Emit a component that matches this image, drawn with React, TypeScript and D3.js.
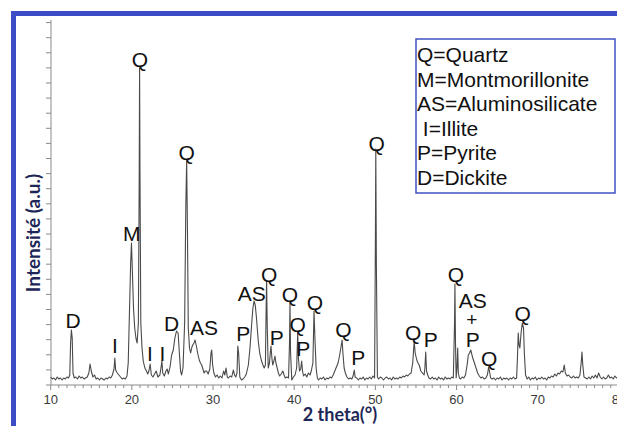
import React from 'react';
import * as d3 from 'd3';

const width = 617;
const height = 426;
const margin = { top: 20, left: 51, axisY: 385 };

// 2 theta ticks
const xTicks = [10, 20, 30, 40, 50, 60, 70, 80];
const xMinorTicks = d3.range(10, 81, 1);

// diffractogram, [2theta, intensity (a.u.)]
const pattern: [number, number][] = [
  [10.0, 6], [10.2, 4], [10.4, 5], [10.6, 3], [10.8, 6], [11.0, 4], [11.2, 5], [11.4, 3], [11.6, 5], [11.8, 4], [12.0, 6], [12.2, 5],
  [12.35, 8], [12.45, 40], [12.55, 53], [12.65, 45], [12.75, 10],
  [12.9, 5], [13.1, 6], [13.3, 4], [13.5, 7], [13.7, 5], [13.9, 6], [14.1, 4], [14.3, 5], [14.5, 6], [14.7, 10], [14.85, 19], [15.0, 12],
  [15.2, 6], [15.4, 8], [15.6, 4], [15.8, 5], [16.0, 3], [16.2, 5], [16.4, 4], [16.6, 3], [16.8, 5], [17.0, 4], [17.2, 6], [17.4, 5],
  [17.6, 8], [17.8, 14], [17.9, 25], [18.0, 13], [18.2, 10], [18.4, 8], [18.6, 6], [18.8, 4], [19.0, 5], [19.2, 4], [19.4, 7],
  [19.55, 20], [19.7, 70], [19.85, 120], [19.95, 140], [20.05, 115], [20.2, 75], [20.35, 55], [20.5, 45], [20.65, 40], [20.8, 60],
  [20.9, 200], [20.95, 315], [21.0, 210], [21.1, 60], [21.25, 35], [21.4, 22], [21.6, 15], [21.8, 12], [21.95, 9], [22.1, 12],
  [22.25, 19], [22.4, 8], [22.6, 6], [22.8, 9], [23.0, 12], [23.2, 6], [23.45, 8], [23.6, 16], [23.7, 22], [23.8, 10], [24.0, 7],
  [24.2, 12], [24.35, 14], [24.5, 9], [24.7, 16], [24.9, 28], [25.1, 33], [25.3, 45], [25.5, 52], [25.7, 50], [25.85, 30], [26.0, 12],
  [26.13, 8], [26.3, 15], [26.5, 60], [26.65, 180], [26.75, 222], [26.85, 150], [26.95, 55], [27.1, 35], [27.24, 30], [27.4, 36],
  [27.5, 38], [27.65, 40], [27.78, 43], [27.95, 37], [28.1, 30], [28.3, 23], [28.45, 20], [28.6, 18], [28.75, 14], [28.9, 10],
  [29.05, 12], [29.2, 12], [29.4, 9], [29.6, 14], [29.75, 30], [29.84, 33], [29.95, 18], [30.1, 10], [30.3, 6], [30.5, 8], [30.7, 5],
  [30.9, 7], [31.1, 5], [31.3, 12], [31.45, 8], [31.6, 15], [31.75, 6], [31.9, 5], [32.1, 7], [32.3, 6], [32.5, 13], [32.65, 8],
  [32.8, 6], [32.95, 10], [33.05, 37], [33.15, 30], [33.3, 6], [33.5, 3], [33.7, 4], [33.9, 6], [34.1, 9], [34.35, 18], [34.55, 35],
  [34.75, 58], [34.9, 74], [35.05, 82], [35.2, 78], [35.35, 65], [35.57, 42], [35.75, 30], [35.98, 22], [36.15, 18], [36.3, 15],
  [36.45, 18], [36.55, 80], [36.6, 102], [36.67, 60], [36.8, 15], [36.95, 20], [37.05, 30], [37.14, 37], [37.25, 25], [37.35, 18],
  [37.5, 22], [37.63, 27], [37.75, 20], [37.9, 15], [38.05, 10], [38.2, 7], [38.4, 9], [38.6, 12], [38.75, 8], [38.9, 5], [39.1, 6],
  [39.3, 5], [39.42, 40], [39.48, 80], [39.55, 30], [39.7, 3], [39.9, 6], [40.1, 8], [40.3, 15], [40.43, 50], [40.52, 25], [40.65, 12],
  [40.8, 14], [40.92, 22], [41.02, 12], [41.15, 7], [41.35, 9], [41.55, 6], [41.75, 10], [41.95, 8], [42.1, 12], [42.3, 20],
  [42.44, 72], [42.55, 45], [42.7, 15], [42.85, 5], [43.0, 3], [43.2, 5], [43.4, 4], [43.6, 6], [43.8, 3], [44.0, 5], [44.2, 4],
  [44.4, 6], [44.6, 5], [44.8, 8], [45.0, 12], [45.2, 16], [45.4, 20], [45.6, 28], [45.8, 38], [45.9, 43], [46.0, 30], [46.15, 15],
  [46.3, 10], [46.5, 6], [46.7, 4], [46.9, 5], [47.1, 4], [47.25, 7], [47.4, 13], [47.5, 6], [47.7, 5], [47.9, 3], [48.1, 5],
  [48.3, 4], [48.5, 6], [48.7, 3], [48.9, 5], [49.1, 4], [49.3, 6], [49.5, 4], [49.7, 7], [49.9, 5],
  [50.0, 140], [50.05, 234], [50.12, 120], [50.25, 6], [50.4, 4], [50.6, 6], [50.8, 5], [51.0, 3], [51.2, 5], [51.4, 6], [51.6, 4],
  [51.8, 5], [52.0, 3], [52.2, 6], [52.4, 4], [52.6, 5], [52.8, 4], [53.0, 6], [53.2, 5], [53.4, 7], [53.6, 6], [53.8, 8], [54.0, 7],
  [54.2, 9], [54.4, 10], [54.6, 20], [54.78, 42], [54.9, 30], [55.1, 23], [55.25, 20], [55.4, 18], [55.6, 12], [55.8, 10], [56.0, 8],
  [56.1, 15], [56.2, 31], [56.3, 12], [56.45, 8], [56.6, 5], [56.8, 4], [57.0, 6], [57.2, 4], [57.4, 5], [57.6, 3], [57.8, 6],
  [58.0, 4], [58.2, 5], [58.4, 3], [58.6, 6], [58.8, 4], [59.0, 5], [59.2, 4], [59.4, 6], [59.6, 5],
  [59.75, 60], [59.8, 99], [59.87, 40], [59.95, 5], [60.05, 15], [60.14, 35], [60.22, 10], [60.35, 5], [60.5, 4], [60.7, 6], [60.9, 5],
  [61.1, 8], [61.3, 18], [61.45, 28], [61.6, 30], [61.75, 33], [61.9, 28], [62.0, 25], [62.2, 20], [62.4, 15], [62.6, 10], [62.8, 7],
  [63.0, 5], [63.2, 6], [63.4, 4], [63.6, 5], [63.8, 8], [63.95, 16], [64.05, 12], [64.2, 5], [64.4, 4], [64.6, 5], [64.8, 3],
  [65.0, 5], [65.2, 4], [65.4, 6], [65.6, 3], [65.8, 5], [66.0, 4], [66.2, 5], [66.4, 3], [66.6, 5], [66.8, 4], [67.0, 6], [67.2, 4],
  [67.4, 5], [67.5, 25], [67.6, 50], [67.7, 38], [67.8, 35], [67.95, 50], [68.1, 60], [68.25, 55], [68.35, 30], [68.5, 8], [68.7, 4],
  [68.9, 6], [69.1, 3], [69.3, 5], [69.5, 4], [69.7, 6], [69.9, 3], [70.1, 5], [70.3, 4], [70.5, 6], [70.7, 4], [70.9, 5], [71.1, 3],
  [71.3, 6], [71.5, 5], [71.7, 7], [71.9, 6], [72.1, 9], [72.3, 7], [72.5, 10], [72.7, 9], [72.9, 12], [73.1, 11], [73.27, 18],
  [73.4, 10], [73.6, 7], [73.8, 8], [74.0, 6], [74.2, 5], [74.4, 7], [74.6, 5], [74.8, 6], [75.0, 5], [75.2, 8], [75.35, 20],
  [75.45, 31], [75.55, 18], [75.7, 6], [75.9, 5], [76.1, 4], [76.3, 6], [76.5, 4], [76.7, 7], [76.9, 5], [77.1, 8], [77.3, 5],
  [77.5, 10], [77.7, 6], [77.9, 4], [78.1, 6], [78.3, 4], [78.5, 5], [78.7, 8], [78.9, 5], [79.1, 6], [79.3, 4], [79.5, 7], [79.7, 5],
  [79.9, 6], [80.1, 5], [80.3, 6], [80.5, 4],
];

// phase labels: text, 2theta, intensity level of the label baseline
const labelText = ['D', 'I', 'M', 'Q', 'I', 'I', 'D', 'Q', 'AS', 'P', 'AS', 'Q', 'P', 'Q', 'Q', 'P', 'Q', 'Q', 'P', 'Q', 'Q', 'P', 'Q', 'AS', '+', 'P', 'Q', 'Q'];
const labelTheta = [12.75, 17.92, 19.98, 21.0, 22.23, 23.75, 24.9, 26.76, 28.9, 33.73, 34.76, 36.93, 37.84, 39.48, 40.43, 41.12, 42.56, 46.05, 47.9, 50.16, 54.67, 56.82, 59.93, 61.99, 61.87, 61.99, 64.03, 68.15];
const labelLevel = [57, 32, 144, 318, 24, 24, 54, 225, 50, 44, 84, 103, 40, 83, 53, 29, 75, 48, 20, 234, 45, 38, 103, 77, 59, 38, 19, 64];

const legendItems = ['Q=Quartz', 'M=Montmorillonite', 'AS=Aluminosilicate', ' I=Illite', 'P=Pyrite', 'D=Dickite'];

const App = () => {
  const x = d3.scaleLinear().domain([10, 80]).range([50.7, 618.9]);
  const y = d3.scaleLinear().domain([0, 365]).range([margin.axisY, margin.axisY - 365]);
  const yTicks = d3.range(0, 25).map(i => i * 15.1);

  const line = d3.line<[number, number]>()
    .x(d => x(d[0]))
    .y(d => y(d[1] + 2));

  const navy = '#1d2656';

  return (
    <svg width={width} height={height} style={{ position: 'absolute', left: 0, top: 0, background: '#fff' }}>
      <rect x={0} y={0} width={width} height={height} fill="#fff" />
      {/* outer frame */}
      <rect x={13.5} y={13.5} width={width + 20} height={height + 20} fill="none" stroke="#3c4bc6" strokeWidth={5} />

      {/* y axis */}
      <line x1={margin.left} x2={margin.left} y1={margin.top} y2={margin.axisY} stroke="#8a8a8a" strokeWidth={1} />
      {yTicks.map((t, i) => (
        <line key={'yt' + i} x1={margin.left - 5} x2={margin.left} y1={y(t)} y2={y(t)} stroke="#8a8a8a" strokeWidth={1} />
      ))}

      {/* x axis */}
      <line x1={margin.left} x2={width} y1={margin.axisY} y2={margin.axisY} stroke="#8a8a8a" strokeWidth={1} />
      {xMinorTicks.map(t => (
        <line key={'xm' + t} x1={x(t)} x2={x(t)} y1={margin.axisY} y2={margin.axisY + (t % 10 === 0 ? 5 : 3)} stroke="#8a8a8a" strokeWidth={1} />
      ))}
      {xTicks.map(t => (
        <text key={'xl' + t} x={x(t)} y={404} textAnchor="middle" fontFamily="Liberation Sans, Arial, sans-serif" fontSize={13} fill="#3a3a3a">
          {t}
        </text>
      ))}

      {/* pattern */}
      <path d={line(pattern) || ''} fill="none" stroke="#4a4a4a" strokeWidth={1.1} strokeLinejoin="round" />

      {/* phase labels */}
      {labelText.map((t, i) => (
        <text key={'pl' + i} x={x(labelTheta[i])} y={y(labelLevel[i])} textAnchor="middle"
          fontFamily="Liberation Sans, Arial, sans-serif" fontSize={t === '+' ? 19 : 21} fill="#111">
          {t}
        </text>
      ))}

      {/* axis titles */}
      <text x={340} y={421} textAnchor="middle" fontFamily="Lato, sans-serif" fontWeight="bold" fontSize={18} fill={navy}>
        2 theta(°)
      </text>
      <text transform={`translate(40,233) rotate(-90)`} textAnchor="middle" fontFamily="Lato, sans-serif" fontWeight="bold" fontSize={19} fill={navy}>
        Intensité (a.u.)
      </text>

      {/* legend */}
      <rect x={416} y={39} width={199} height={154} fill="#fff" stroke="#4051c0" strokeWidth={1.5} />
      {legendItems.map((t, i) => (
        <text key={'lg' + i} x={417} y={62 + i * 24.6} fontFamily="Liberation Sans, Arial, sans-serif" fontSize={21} fill="#111"
          style={{ whiteSpace: 'pre' }}>
          {t}
        </text>
      ))}
    </svg>
  );
};

export default App;
